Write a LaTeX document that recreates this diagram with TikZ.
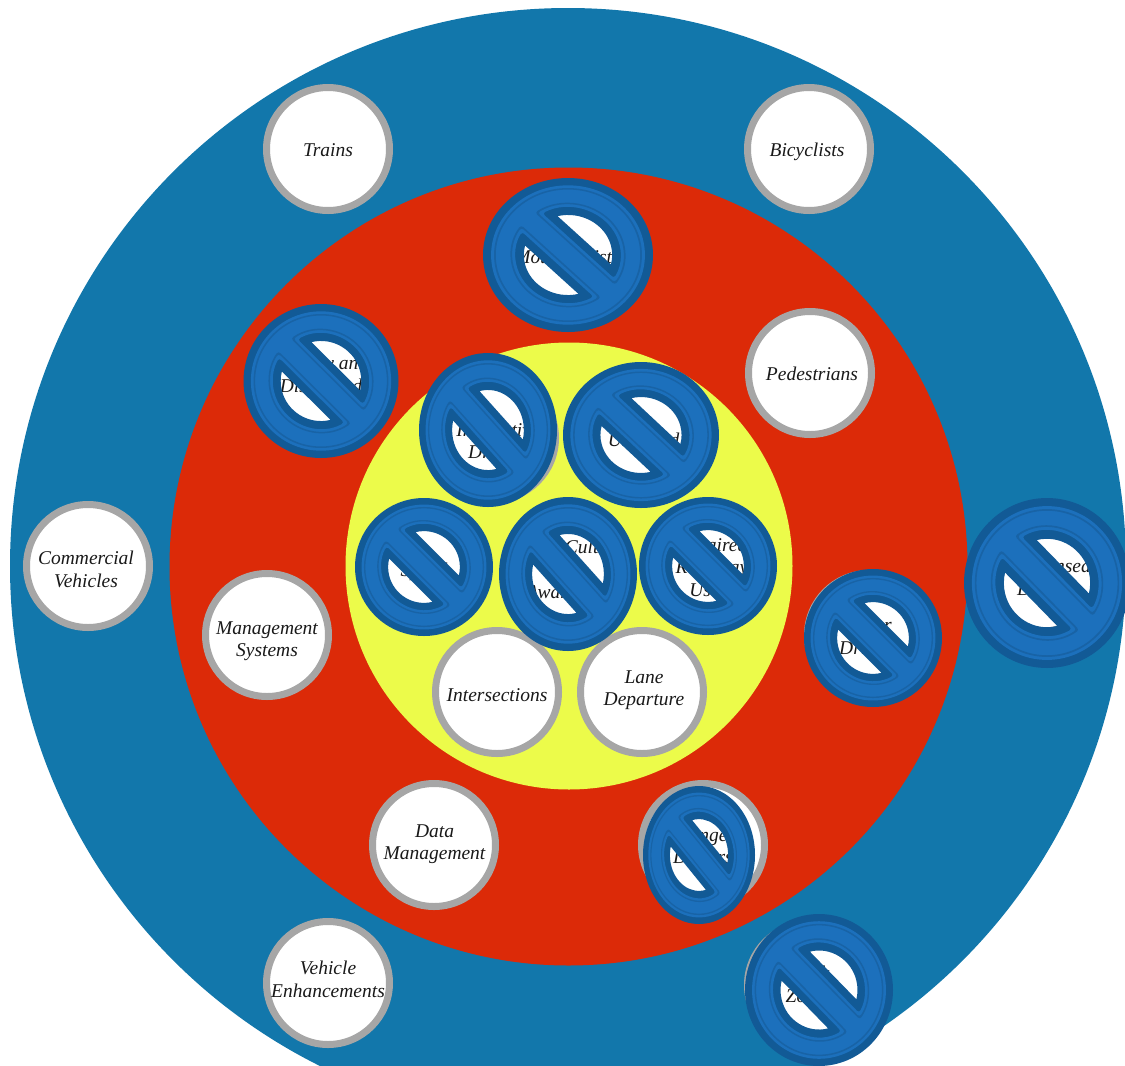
\documentclass[tikz,border=0pt]{standalone}
\usepackage{fontspec}
\setmainfont{Liberation Serif}
\definecolor{ringblue}{HTML}{1277AB}
\definecolor{ringred}{HTML}{DC2A08}
\definecolor{ringyellow}{HTML}{ECFB4A}
\definecolor{signblue}{HTML}{1C70BC}
\definecolor{signdark}{HTML}{125A96}
\definecolor{signline}{HTML}{1863A6}
\tikzset{
  topicring/.style={circle,draw=gray!70,fill=white,line width=7pt,minimum size=123pt,inner sep=0pt},
  topictext/.style={inner sep=0pt,align=center,text=black!90,yshift=-3.5pt,
    font=\fontsize{19.5}{22.5}\selectfont\itshape,
    execute at begin node=\strut,execute at end node=\strut},
}
\newcommand{\topic}[4]{%
  \node[topicring] (#1) at (#2) {};
  \node[topictext] (#1text) at (#3) {#4};}
\newcommand{\moons}[3]{(#3:#1) arc[start angle=#3,end angle=180-#3,radius=#1] -- cycle
  (180+#3:#1) arc[start angle=180+#3,end angle=360-#3,radius=#1] -- cycle}
\newcommand{\nosign}[4]{%
  \begin{scope}[shift={(#1,#2)},xscale=#3/100,yscale=#4/100,rotate=-45]
    \fill[signdark,even odd rule] (0,0) circle(100) \moons{52}{27}{31.3};
    \fill[signblue,even odd rule,rounded corners=3pt] (0,0) circle(90.5) \moons{62}{17}{15.9};
    \fill[signline,even odd rule,rounded corners=3pt] (0,0) circle(87) (0,0) circle(85)
      \moons{65.5}{13.5}{11.9} \moons{67.5}{11.5}{9.8};
  \end{scope}}

\begin{document}
\begin{tikzpicture}[x=1pt,y=-1pt]
\useasboundingbox (0,0) rectangle (1125,1066);
\clip (0,0) rectangle (1125,1066);
\begin{scope}
    \fill[ringblue] (568,566) circle(558);
    \fill[ringred] (568.5,566.5) circle(399);
    \fill[ringyellow] (569,566) circle(223.5);

    \topic{trains}{328,149}{328,148}{Trains}
    \topic{bicyclists}{809,149}{807,148}{Bicyclists}
    \topic{motorcyclists}{568,255}{567,255}{Motorcyclists}
    \topic{drowsy}{321,378}{321,374}{Drowsy and\\Distracted}
    \topic{pedestrians}{810,373}{812,372}{Pedestrians}
    \topic{inattentive}{494,438}{498,441}{Inattentive\\Drivers}
    \topic{unbelted}{643,437}{643.5,438}{Unbelted}
    \topic{commercial}{88,566}{86,569}{Commercial\\Vehicles}
    \topic{speed}{424,567}{424,568}{Speed}
    \topic{culture}{568,568}{568,569}{Safety Culture\\and\\Awareness}
    \topic{impaired}{711,566}{712,567}{Impaired\\Roadway\\Users}
    \topic{unlicensed}{1040,570}{1047,577}{Unlicensed\\Drivers}
    \topic{older}{869,635}{869,636}{Older\\Drivers}
    \topic{management}{267,635}{267,639}{Management\\Systems}
    \topic{intersections}{497,692}{497,693}{Intersections}
    \topic{lane}{642,692}{644,688}{Lane\\Departure}
    \topic{data}{434,845}{434.5,842}{Data\\Management}
    \topic{younger}{703,845}{703,846}{Younger\\Drivers}
    \topic{vehicle}{328,983}{328,979}{Vehicle\\Enhancements}
    \topic{work}{809,985}{809,984}{Work\\Zones}

    \nosign{568}{255}{85}{77}
    \nosign{321}{381}{77.5}{77}
    \nosign{488}{430}{69}{77}
    \nosign{641}{435}{78}{73}
    \nosign{424}{567}{69}{69}
    \nosign{568}{574}{69}{77}
    \nosign{708}{566}{69}{69}
    \nosign{873}{638}{69}{69}
    \nosign{1047}{583}{83}{85}
    \nosign{699}{855}{56}{69}
    \nosign{819}{990}{74}{76}
\end{scope}
\end{tikzpicture}
\end{document}
